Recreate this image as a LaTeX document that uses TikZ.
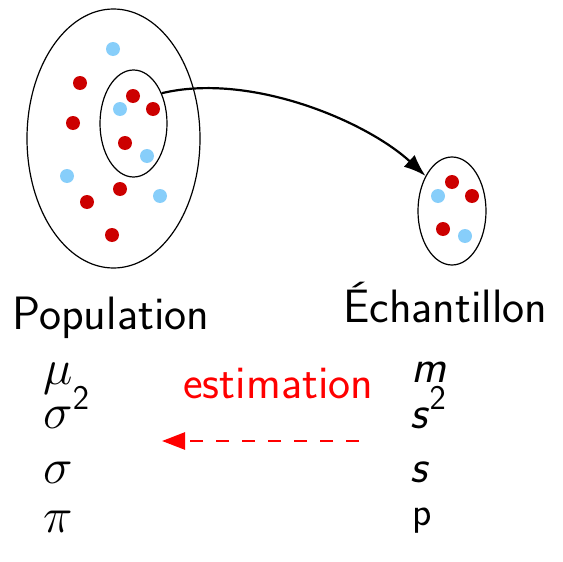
\documentclass[tikz,border=0pt]{standalone}
\usetikzlibrary{shapes.geometric,arrows.meta}
\definecolor{dotred}{HTML}{CC0000}
\definecolor{dotblue}{HTML}{87CEFA}
\tikzset{
  setbox/.style={ellipse, draw=black, line width=0.6pt, inner sep=0pt},
  reddot/.style={circle, fill=dotred, inner sep=0pt, minimum size=7pt},
  bluedot/.style={circle, fill=dotblue, inner sep=0pt, minimum size=7pt},
  biglab/.style={font=\fontsize{23.4}{28}\selectfont\sffamily, inner sep=0pt, anchor=base west},
  smalllab/.style={biglab, font=\fontsize{20}{24}\selectfont\sffamily},
  drawflow/.style={-{Latex[length=11pt, width=8pt]}, line width=1.1pt},
  estflow/.style={-{Triangle[length=11.5pt, width=8.5pt]}, red, line width=1.3pt,
    dash pattern=on 6.5pt off 6.5pt},
}
\begin{document}
\begin{tikzpicture}[x=0.5pt, y=-0.5pt]
\useasboundingbox (0,0) rectangle (563,562);
% --- sets ---
\node[setbox, minimum width=86.5pt, minimum height=129.5pt] (pop) at (113.5,138.5) {};
\node[setbox, minimum width=33.5pt, minimum height=53.5pt] (sub) at (133.5,123.5) {};
\node[setbox, minimum width=34pt, minimum height=54pt] (ech) at (452,211) {};
% --- individuals ---
\foreach \px/\py [count=\i] in {80/83, 133/96, 153/109, 73/123, 125/143, 120/189, 87/202, 112/235}
  \node[reddot] (pr\i) at (\px,\py) {};
\foreach \px/\py [count=\i] in {113/49, 120/109, 147/156, 67/176, 160/196}
  \node[bluedot] (pb\i) at (\px,\py) {};
\foreach \px/\py [count=\i] in {452/182, 472/196, 443/229}
  \node[reddot] (er\i) at (\px,\py) {};
\foreach \px/\py [count=\i] in {438/196, 465/236}
  \node[bluedot] (eb\i) at (\px,\py) {};
% --- sampling ---
\draw[drawflow] (sub.47) .. controls (250,72) and (366,121) .. (ech.127);
% --- labels ---
\node[biglab] (poplab) at (12,329) {Population};
\node[biglab] (echlab) at (343,322) {Échantillon};
\node[biglab] (mu) at (43,384) {$\mu$};
\node[biglab] (sig2) at (43,428) {$\sigma^{\mathsf{2}}$};
\node[biglab] (sig) at (43,483) {$\sigma$};
\node[biglab] (pi) at (43,532) {$\pi$};
\node[biglab] (m) at (411,382) {\textsl{m}};
\node[biglab] (s2) at (410,428) {\textsl{s}$^{\mathsf{2}}$};
\node[biglab] (s) at (410,482) {\textsl{s}};
\node[smalllab] (p) at (412,525) {p};
% --- estimation ---
\node[biglab, text=red] (est) at (183,398) {estimation};
\coordinate (estR) at (359,441);
\coordinate (estL) at (162,441);
\draw[estflow] (estR) -- (estL);
\end{tikzpicture}
\end{document}
